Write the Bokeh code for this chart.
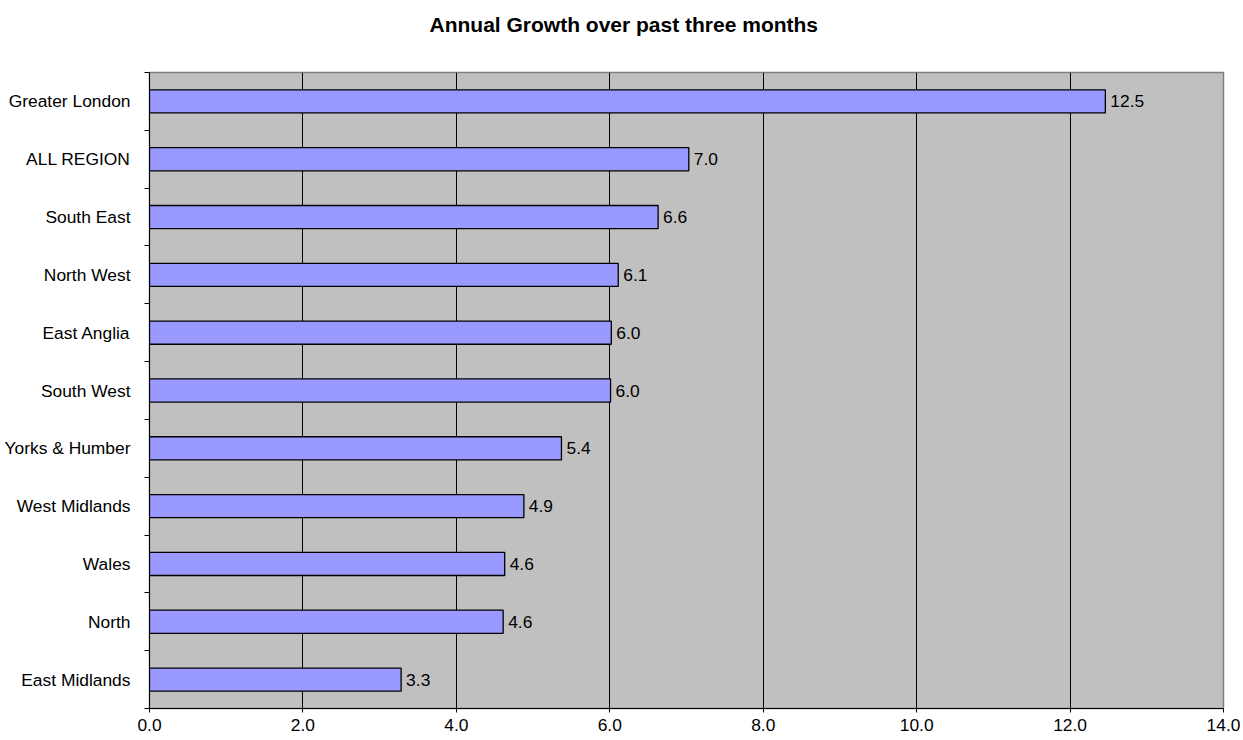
from bokeh.plotting import figure
from bokeh.models import ColumnDataSource, FixedTicker, NumeralTickFormatter, Range1d, Title
from bokeh.embed import file_html
from bokeh.resources import INLINE
from bokeh.core.properties import value

title_text = "Annual Growth over past three months"
regions = ["Greater London", "ALL REGION", "South East", "North West", "East Anglia",
           "South West", "Yorks & Humber", "West Midlands", "Wales", "North", "East Midlands"]
growth = [12.46, 7.03, 6.63, 6.11, 6.02, 6.01, 5.37, 4.88, 4.63, 4.61, 3.28]
growth_labels = ["12.5", "7.0", "6.6", "6.1", "6.0", "6.0", "5.4", "4.9", "4.6", "4.6", "3.3"]
x_ticks = [0, 2, 4, 6, 8, 10, 12, 14]
grid_ticks = [2, 4, 6, 8, 10, 12]

n = len(regions)
ypos = [n - 1 - i for i in range(n)]
boundaries = [k - 0.5 for k in range(n + 1)]

src = ColumnDataSource(dict(y=ypos, v=growth, lab=growth_labels, name=regions))

FONT = "Liberation Sans"

p = figure(width=1240, height=738, output_backend="svg", toolbar_location=None,
           x_range=Range1d(0, 14), y_range=Range1d(-0.5, n - 0.5),
           min_border_left=149, min_border_right=17, min_border_top=72, min_border_bottom=30)

p.title.text = title_text
p.title.text_font = FONT
p.title.text_font_size = "21px"
p.title.text_font_style = "bold"
p.title.align = "left"
p.title.offset = 280
p.title.text_color = "black"
p.title.standoff = 0

# empty spacer between the title and the plot area
spacer = Title(text=" ", text_font_size="10px", standoff=24)
p.add_layout(spacer, "above")

p.background_fill_color = "#C0C0C0"
p.border_fill_color = "white"
p.outline_line_color = "#808080"
p.outline_line_width = 1.5

p.hbar(y="y", right="v", left=0, height=0.4, source=src,
       fill_color="#9999FF", line_color="black", line_width=1.3)

p.text(x="v", y="y", text="lab", source=src, x_offset=5,
       text_font=value(FONT), text_font_size="17.4px", text_baseline="middle",
       text_align="left", text_color="black")

# x axis
p.xaxis.ticker = FixedTicker(ticks=x_ticks)
p.xaxis.formatter = NumeralTickFormatter(format="0.0")
p.xaxis.major_label_text_font = FONT
p.xaxis.major_label_text_font_size = "17.4px"
p.xaxis.major_label_text_color = "black"
p.xaxis.major_tick_out = 4
p.xaxis.major_tick_in = 0
p.xaxis.minor_tick_out = 0
p.xaxis.minor_tick_in = 0
p.xaxis.major_label_standoff = 6
p.xaxis.axis_line_color = "black"
p.xaxis.major_tick_line_color = "black"

# y axis
p.yaxis.ticker = FixedTicker(ticks=ypos, minor_ticks=boundaries)
p.yaxis.major_label_overrides = {float(y): r for y, r in zip(ypos, regions)}
p.yaxis.major_label_text_font = FONT
p.yaxis.major_label_text_font_size = "17.4px"
p.yaxis.major_label_text_color = "black"
p.yaxis.major_tick_out = 0
p.yaxis.major_tick_in = 0
p.yaxis.minor_tick_out = 5
p.yaxis.minor_tick_in = 0
p.yaxis.minor_tick_line_color = "black"
p.yaxis.major_label_standoff = 14
p.yaxis.axis_line_color = "black"

p.xgrid.ticker = FixedTicker(ticks=grid_ticks)
p.xgrid.grid_line_color = "black"
p.xgrid.grid_line_alpha = 1.0
p.ygrid.grid_line_color = None

open("out.html", "w").write(file_html(p, INLINE))
